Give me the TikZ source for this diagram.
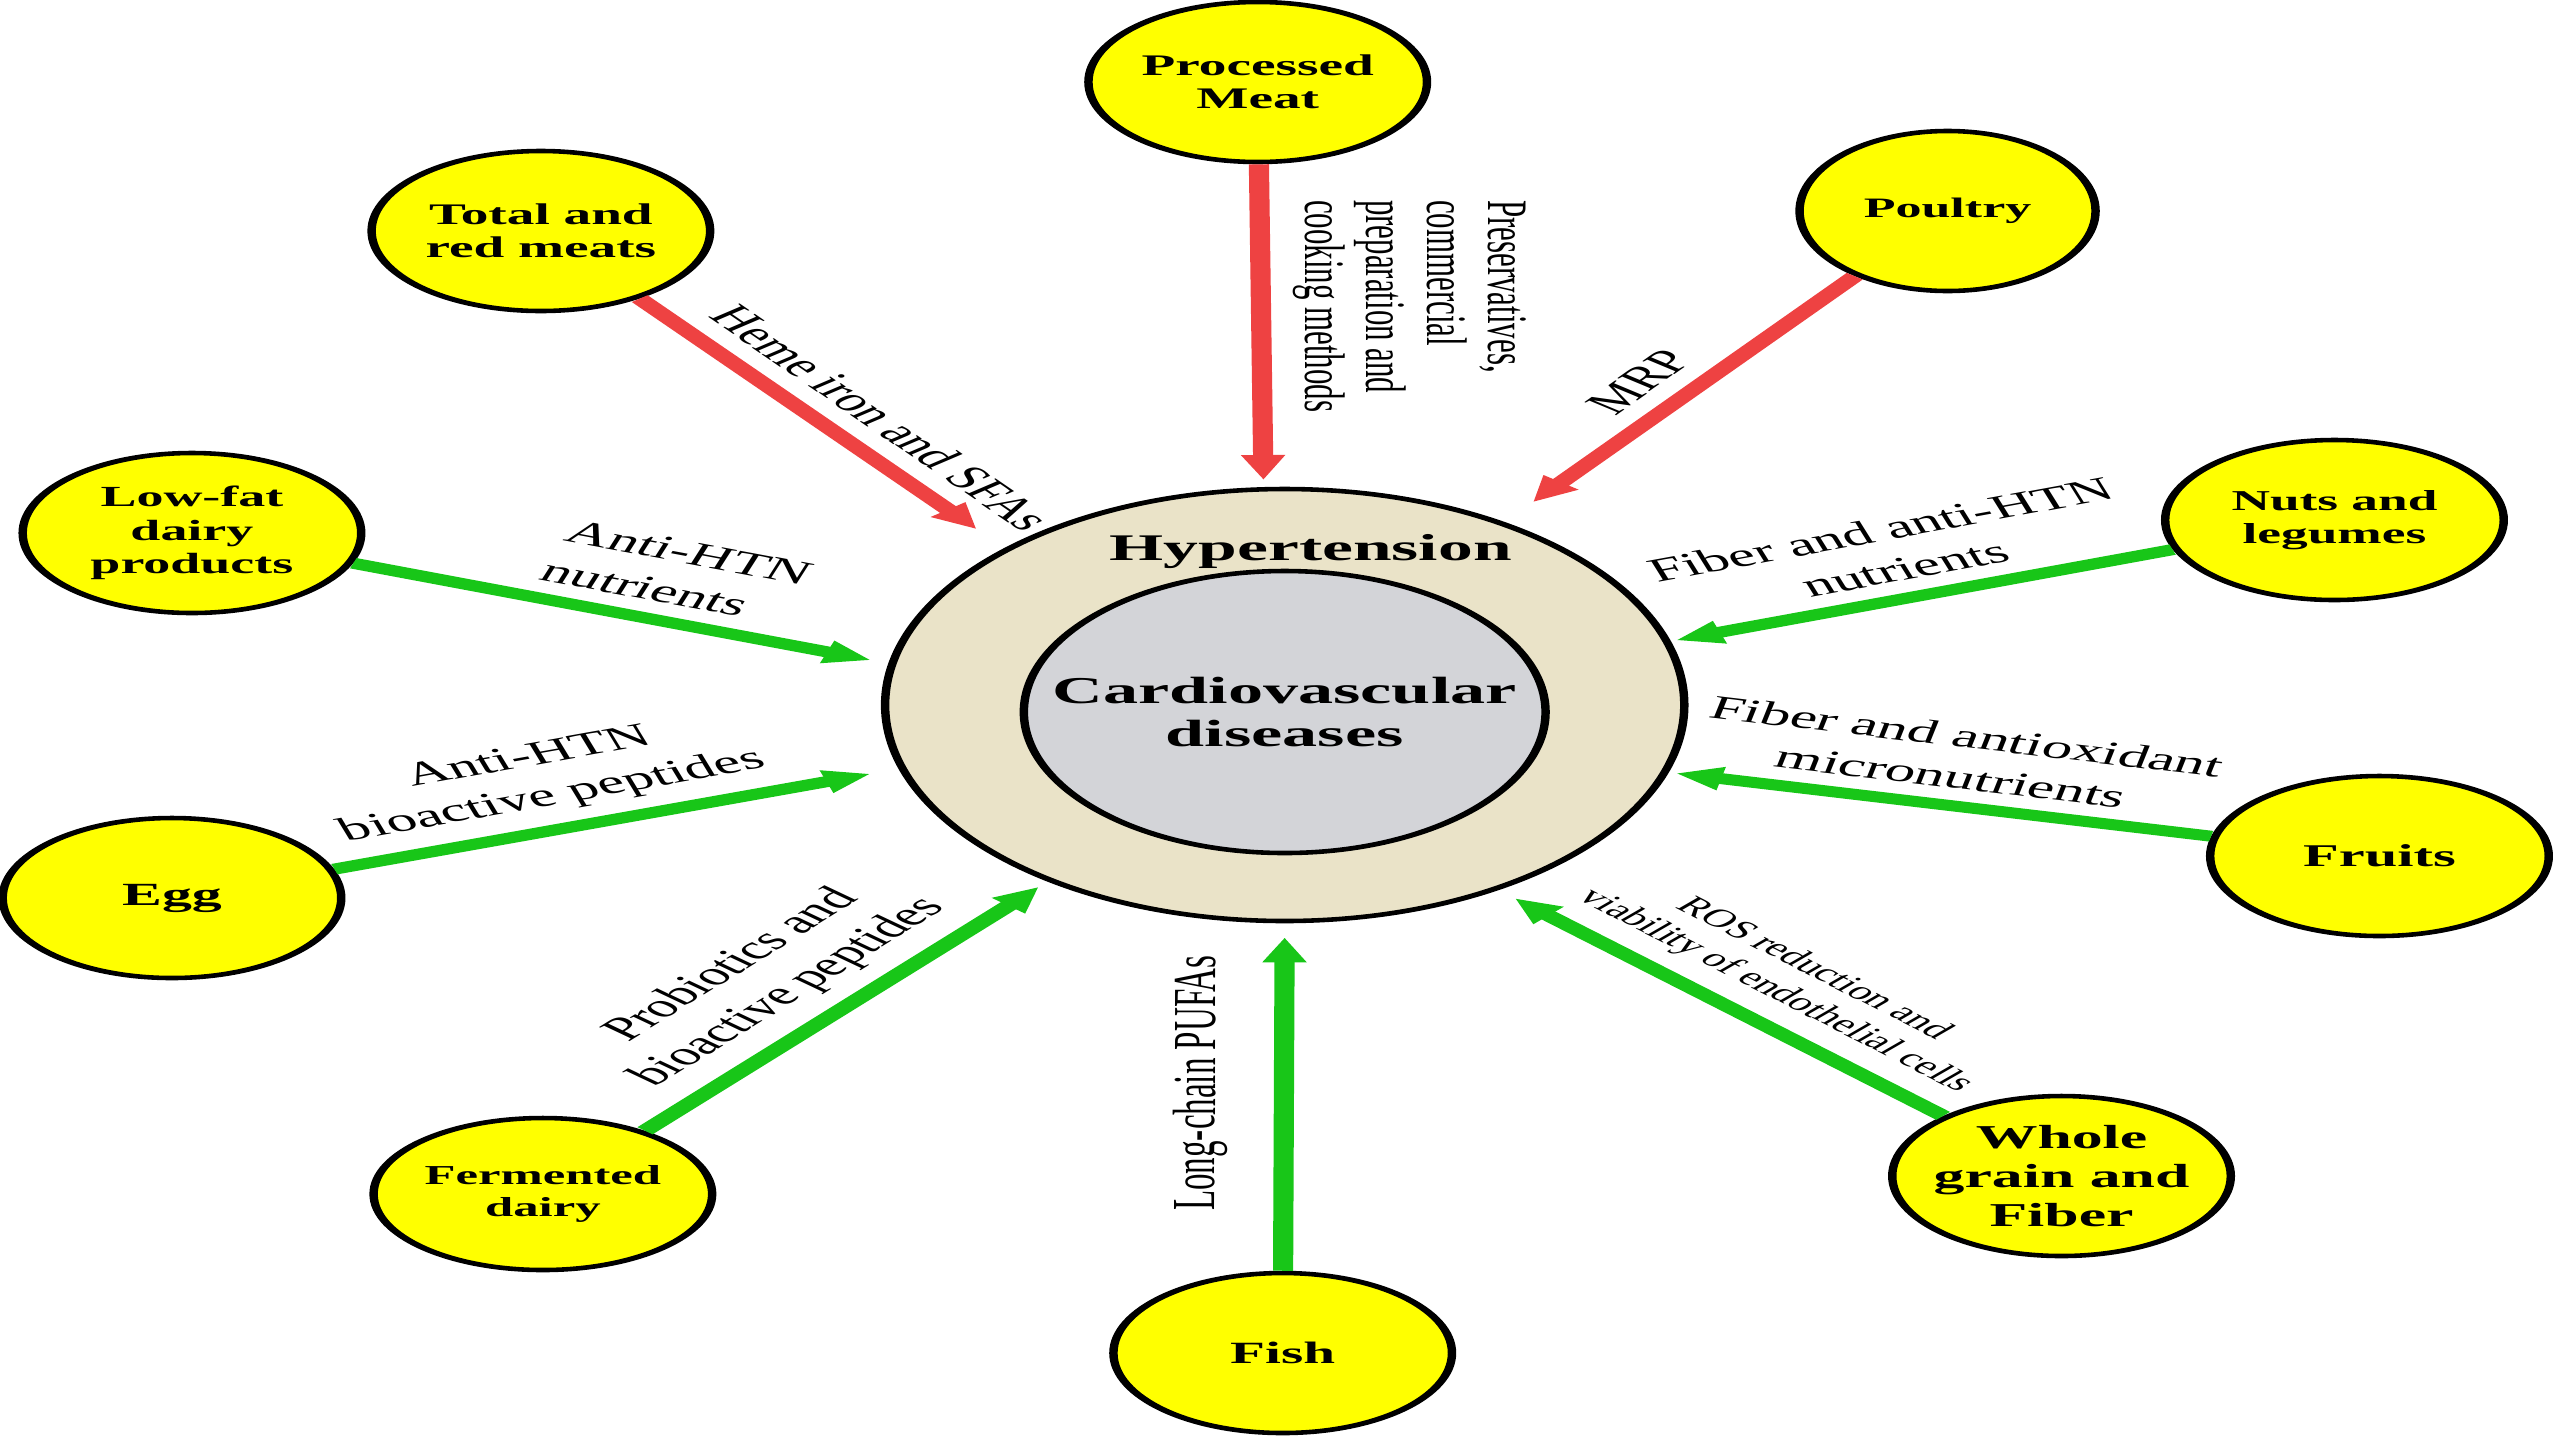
\documentclass[tikz,border=0pt]{standalone}
\usepackage{fontspec}
\setmainfont{Liberation Serif}
\usetikzlibrary{arrows.meta, positioning, shapes.geometric}

\definecolor{foodyellow}{RGB}{255,255,0}
\definecolor{ringbeige}{RGB}{234,227,200}
\definecolor{coregray}{RGB}{211,212,216}
\definecolor{harmred}{RGB}{238,66,66}
\definecolor{goodgreen}{RGB}{24,198,24}

\begin{document}
\begin{tikzpicture}[>={Triangle[length=2.5mm,width=2.2mm]}, x=0.054054mm, y=-0.1mm,
  food/.style={ellipse, draw, line width=1.3pt, fill=foodyellow, minimum width=18.3mm, minimum height=16mm, inner sep=-0.5mm, align=center, font=\bfseries\fontsize{8.5}{9.5}\selectfont},
  harm/.style={->, line width=3.1pt, color=harmred},
  good/.style={->, line width=3.1pt, color=goodgreen},
  lbl/.style={text=black, align=center, font=\fontsize{9.4}{11.6}\selectfont}]
  \useasboundingbox (0mm,0mm) rectangle (256mm,-144mm);

  \begin{scope}[transform canvas={xscale=1.85}]
  % Anillo central
  \node[circle, draw, line width=1.3pt, fill=ringbeige, minimum size=43.2mm] (hyp) at (1285,705) {};
  \node[circle, draw, line width=1.3pt, fill=coregray, minimum size=28.2mm, inner sep=0pt, align=center, font=\bfseries\fontsize{10.8}{12.4}\selectfont] (cvd) at (1285,712) {Cardiovascular\\diseases};
  \node[anchor=base, font=\bfseries\fontsize{10.7}{12}\selectfont] (hyptext) at (1311,560) {Hypertension};

  % Alimentos de riesgo
  \node[food] (pmeat) at (1258,82) {Processed\\Meat};
  \node[food] (tmeat) at (541,231) {Total and\\red meats};
  \node[food, minimum width=16mm, font=\bfseries\fontsize{8}{9}\selectfont] (poultry) at (1948,211) {Poultry};

  % Alimentos protectores
  \node[food, font=\bfseries\fontsize{8.3}{9.5}\selectfont] (lowfat) at (192,533) {Low-fat\\dairy\\products};
  \node[food, font=\bfseries\fontsize{8.2}{9.5}\selectfont] (nuts) at (2335,520) {Nuts and\\legumes};
  \node[food, font=\bfseries\fontsize{9.2}{10}\selectfont] (egg) at (172,898) {Egg};
  \node[food, font=\bfseries\fontsize{9}{10}\selectfont] (fruits) at (2380,856) {Fruits};
  \node[food, minimum height=15.2mm, font=\bfseries\fontsize{7.8}{9}\selectfont] (ferm) at (543,1194) {Fermented\\dairy};
  \node[food, font=\bfseries\fontsize{8.8}{10}\selectfont] (fish) at (1283,1353) {Fish};
  \node[food, font=\bfseries\fontsize{9.5}{11}\selectfont] (wgrain) at (2062,1176) {Whole\\grain and\\Fiber};

  % Flechas rojas
  \draw[harm, shorten >=0.7mm] (pmeat) -- node[lbl, pos=0.44, rotate=-90, anchor=south, align=left, font=\fontsize{8.8}{9.4}\selectfont] {Preservatives,\\commercial\\preparation and\\cooking methods} (hyp.93.5);
  \draw[harm, shorten >=2.4mm] (tmeat) -- node[lbl, sloped, above, pos=0.55] {Heme iron and SFAs} (hyp.134);
  \draw[harm, shorten >=2.5mm] (poultry) -- node[lbl, sloped, above, pos=0.5] {MRP} (hyp.57);

  % Flechas verdes
  \draw[good, shorten >=1mm] (lowfat) -- node[lbl, sloped, above, pos=0.55, align=left] {Anti-HTN\\nutrients} (hyp.169);
  \draw[good, shorten >=1.6mm] (egg) -- node[lbl, sloped, above, pos=0.42] {Anti-HTN\\bioactive peptides} (hyp.-163);
  \draw[good, shorten >=0.3mm] (nuts) -- node[lbl, sloped, above, pos=0.5] {Fiber and anti-HTN\\nutrients} (hyp.17);
  \draw[good, shorten >=0.4mm] (fruits) -- node[lbl, sloped, above, pos=0.5] {Fiber and antioxidant\\micronutrients} (hyp.-18);
  \draw[good, shorten >=0.7mm] (ferm) -- node[lbl, sloped, above, pos=0.47] {Probiotics and\\bioactive peptides} (hyp.-126);
  \draw[good, shorten >=1.4mm] (fish) -- node[lbl, sloped, above, pos=0.54, inner ysep=7pt] {Long-chain PUFAs} (hyp.-90);
  \draw[good, shorten >=1.2mm] (wgrain) -- node[lbl, sloped, above, pos=0.46, font=\fontsize{7.2}{8.6}\selectfont] {ROS reduction and\\viability of endothelial cells} (hyp.-58);
  \end{scope}
\end{tikzpicture}
\end{document}
